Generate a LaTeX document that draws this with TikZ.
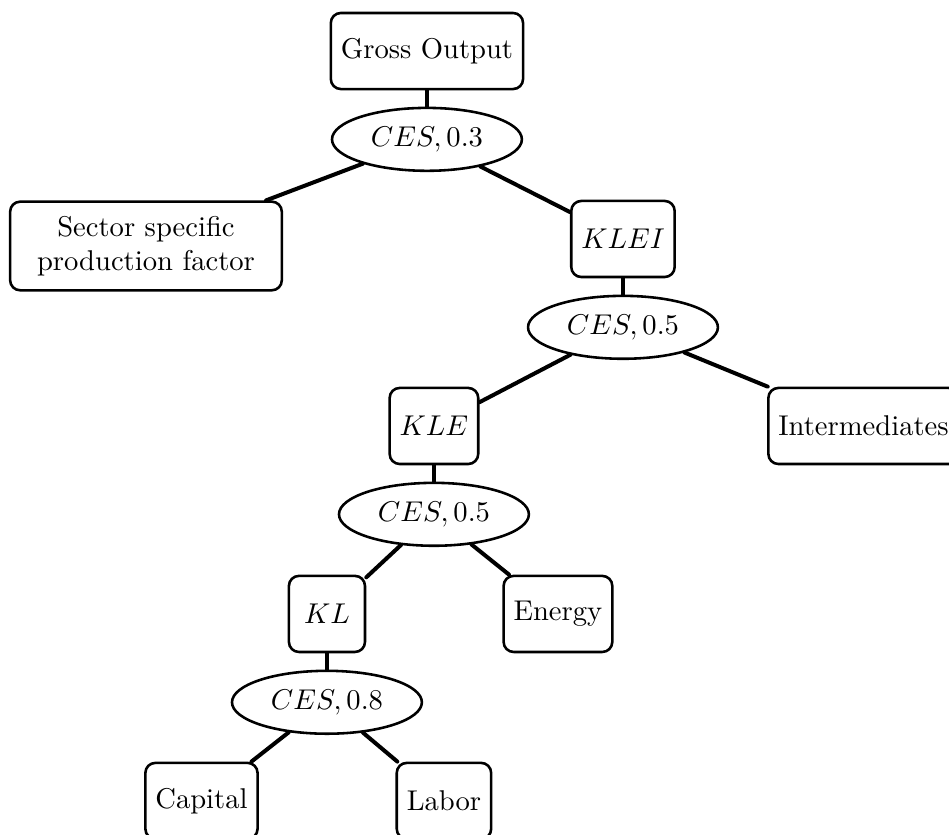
\documentclass[tikz,border=0pt]{standalone}
\usetikzlibrary{shapes.geometric,positioning}
\begin{document}
\begin{tikzpicture}[line cap=round, line join=round,
    factor/.style={draw, line width=0.9pt, rounded corners=3.5pt, minimum width=26.6pt, minimum height=26.6pt, inner xsep=3.5pt, inner ysep=5pt, align=center},
    nest/.style={draw, ellipse, line width=0.9pt, minimum width=66.4pt, minimum height=22pt, inner sep=0pt},
    link/.style={line width=1.4pt}]
    \useasboundingbox (0,0) rectangle (11.663,-10.261);
    \node[factor] (gross) at (5.247,-0.627) {Gross Output};
    \node[nest, below=0.2cm of gross] (ces1) {$CES, 0.3$};
    \node[factor, text width=88pt] (sector) at (1.794,-3.023) {Sector specific\\production factor};
    \node[factor] (klei) at (7.656,-2.937) {$KLEI$};
    \node[nest, below=0.2cm of klei] (ces2) {$CES, 0.5$};
    \node[factor] (kle) at (5.333,-5.235) {$KLE$};
    \node[factor] (inter) at (10.612,-5.235) {Intermediates};
    \node[nest, below=0.2cm of kle] (ces3) {$CES, 0.5$};
    \node[factor] (kl) at (4.018,-7.545) {$KL$};
    \node[factor] (energy) at (6.857,-7.545) {Energy};
    \node[nest, below=0.2cm of kl] (ces4) {$CES, 0.8$};
    \node[factor] (capital) at (2.476,-9.843) {Capital};
    \node[factor] (labor) at (5.456,-9.843) {Labor};
    \foreach \a/\b in {gross/ces1, ces1/sector, ces1/klei, klei/ces2, ces2/kle, ces2/inter,
                       kle/ces3, ces3/kl, ces3/energy, kl/ces4, ces4/capital, ces4/labor}
      \draw[link] (\a) -- (\b);
\end{tikzpicture}
\end{document}
